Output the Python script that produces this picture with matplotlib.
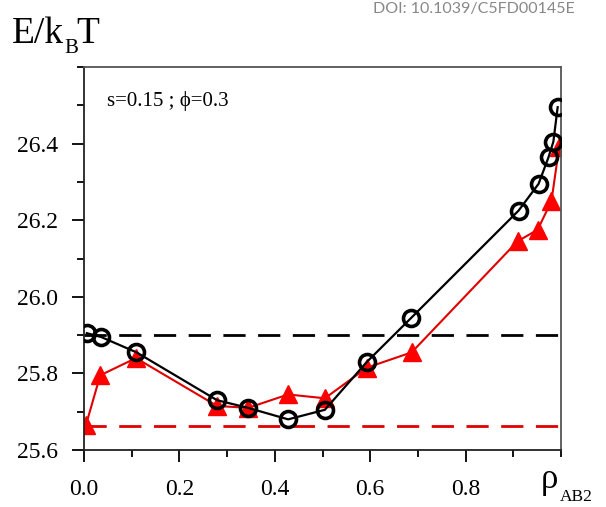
import matplotlib
matplotlib.use("Agg")
import matplotlib.pyplot as plt
from matplotlib.ticker import MultipleLocator

# black circles
rho_black = [0.006, 0.036, 0.11, 0.279, 0.344, 0.428, 0.505, 0.593, 0.686, 0.911, 0.953, 0.974, 0.984, 0.993]
e_black = [25.905, 25.895, 25.855, 25.73, 25.71, 25.68, 25.705, 25.83, 25.945, 26.225, 26.295, 26.365, 26.405, 26.495]

# red triangles
rho_red = [0.004, 0.034, 0.109, 0.279, 0.344, 0.428, 0.505, 0.593, 0.687, 0.909, 0.951, 0.98, 0.996]
e_red = [25.665, 25.795, 25.84, 25.715, 25.71, 25.745, 25.735, 25.815, 25.855, 26.145, 26.175, 26.25, 26.39]

e_black_ref = 25.9
e_red_ref = 25.663

xticks = [0.0, 0.2, 0.4, 0.6, 0.8]
yticks = [25.6, 25.8, 26.0, 26.2, 26.4]

W, H = 606, 507
fig = plt.figure(figsize=(W / 100, H / 100), dpi=100)
ax = fig.add_axes([84 / W, 1 - 450 / H, (561 - 84) / W, (450 - 67) / H])

serif = "Liberation Serif"

ax.axhline(e_black_ref, color="black", lw=2, dashes=(8, 4.5), zorder=1)
ax.axhline(e_red_ref, color="#e00000", lw=2, dashes=(8, 4.5), zorder=1)

ax.plot(rho_red, e_red, color="#e00000", lw=1.5, marker="^", ms=13,
        mfc="#ff0000", mec="#ff0000", zorder=2)
ax.plot(rho_black, e_black, color="black", lw=1.6, marker="o", ms=11.5,
        mfc="none", mec="black", mew=2.6, zorder=3)

ax.set_xlim(0, 1.0)
ax.set_ylim(25.6, 26.6)
ax.xaxis.set_minor_locator(MultipleLocator(0.1))
ax.yaxis.set_minor_locator(MultipleLocator(0.1))
ax.set_xticks(xticks)
ax.set_xticklabels(["%.1f" % v for v in xticks])
ax.set_yticks(yticks)
ax.set_yticklabels(["%.1f" % v for v in yticks])

ax.tick_params(axis="both", which="major", direction="out", length=8.6, width=1.3,
               labelsize=17)
ax.tick_params(axis="y", which="major", pad=10)
ax.tick_params(axis="x", which="major", pad=12)
ax.tick_params(axis="both", which="minor", direction="out", length=5, width=1.3)
ax.tick_params(top=False, right=False)
for lab in ax.get_xticklabels() + ax.get_yticklabels():
    lab.set_fontfamily(serif)

ax.spines["left"].set_color("#222222")
ax.spines["bottom"].set_color("#222222")
ax.spines["top"].set_color("#555555")
ax.spines["right"].set_color("#555555")
for side in ["left", "bottom", "top", "right"]:
    ax.spines[side].set_linewidth(1.3)

ax.text(107 / W, 1 - 101 / H, "s=0.15 ; \u03d5=0.3", transform=fig.transFigure,
        fontsize=15, family=serif, va="center", ha="left")

# E/k_B T
fig.text(12 / W, 1 - 43 / H, "E/k", fontsize=27, family=serif, ha="left", va="baseline")
fig.text(64 / W, 1 - 53 / H, "B", fontsize=15, family=serif, ha="left", va="baseline")
fig.text(76 / W, 1 - 43 / H, "T", fontsize=27, family=serif, ha="left", va="baseline")

fig.text(575 / W, 1 - 9 / H, "DOI: 10.1039/C5FD00145E", fontsize=11.5, family="Lato",
         color="#888888", ha="right", va="center")

# rho_AB2
fig.text(541 / W, 1 - 488 / H, "\u03c1", fontsize=25, family=serif, ha="left", va="baseline")
fig.text(560 / W, 1 - 501 / H, "AB2", fontsize=12.5, family=serif, ha="left", va="baseline")

fig.savefig("out.png", dpi=100)
